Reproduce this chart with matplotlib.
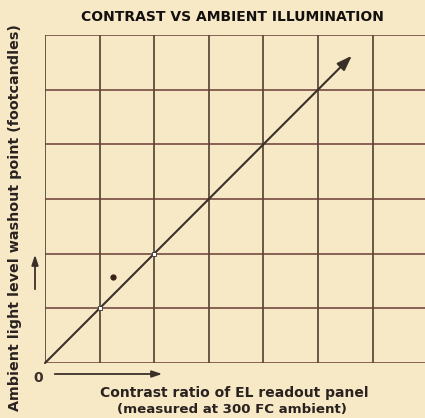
import matplotlib.pyplot as plt
import numpy as np

# grid divisions (arbitrary units, no tick labels in the original)
x_grid = [0, 1, 2, 3, 4, 5, 6, 7]
y_grid = [0, 1, 2, 3, 4, 5, 6]

# diagonal trend line (origin to arrow tip)
line_x = [0.0, 5.62]
line_y = [0.0, 5.62]

# open markers on the line at grid crossings, and one stray dot
mark_x = [1, 2]
mark_y = [1, 2]
dot_x = [1.25]
dot_y = [1.57]

bg = "#f7e9c6"
ink = "#3b2f2a"
grid_col = "#4e402e"
font = ["DejaVu Sans Condensed", "DejaVu Sans"]

fig = plt.figure(figsize=(4.25, 4.18), dpi=100, facecolor=bg)
ax = fig.add_axes([45 / 425, 55 / 418, 380 / 425, 328 / 418])
ax.set_facecolor(bg)
ax.set_xlim(0, 380 / 54.6)
ax.set_ylim(0, 6)

for x in x_grid:
    ax.axvline(x, color=grid_col, lw=1.2, zorder=1)
for y in y_grid:
    ax.axhline(y, color="#6a3e36", lw=1.1, zorder=1)

for s in ax.spines.values():
    s.set_visible(False)
ax.set_xticks([])
ax.set_yticks([])

ax.annotate("", xy=(line_x[1], line_y[1]), xytext=(line_x[0], line_y[0]),
            arrowprops=dict(arrowstyle="-|>,head_length=0.9,head_width=0.32",
                            color=ink, lw=1.5, shrinkA=0, shrinkB=0), zorder=3)
ax.plot(mark_x, mark_y, "s", ms=3, mfc="white", mec=ink, mew=0.6, zorder=4)
ax.plot(dot_x, dot_y, "o", ms=3.5, color="#3a1f1a", zorder=4)

# axis direction arrows outside the grid
ax.annotate("", xy=(35, 418 - 252), xytext=(35, 418 - 292), xycoords="figure pixels",
            textcoords="figure pixels",
            arrowprops=dict(arrowstyle="-|>,head_length=0.6,head_width=0.2", color=ink, lw=1.3))
ax.annotate("", xy=(165, 418 - 374), xytext=(52, 418 - 374), xycoords="figure pixels",
            textcoords="figure pixels",
            arrowprops=dict(arrowstyle="-|>,head_length=0.6,head_width=0.2", color=ink, lw=1.3))

fig.text(38 / 425, 1 - 378 / 418, "0", ha="center", va="center", fontsize=10,
         fontweight="bold", family=font, color=ink)
fig.text(232 / 425, 1 - 17 / 418, "CONTRAST VS AMBIENT ILLUMINATION", ha="center", va="center",
         fontsize=10, fontweight="bold", family=font, color="#141010")
fig.text(15 / 425, 1 - 218 / 418, "Ambient light level washout point (footcandles)",
         rotation=90, ha="center", va="center", fontsize=10.3, fontweight="bold",
         family=font, color="#2a2220")
fig.text(234 / 425, 1 - 393 / 418, "Contrast ratio of EL readout panel", ha="center",
         va="center", fontsize=10, fontweight="bold", family=font, color="#2a2220")
fig.text(232 / 425, 1 - 410 / 418, "(measured at 300 FC ambient)", ha="center",
         va="center", fontsize=9.6, fontweight="bold", family=font, color="#2a2220")

fig.savefig("out.png", dpi=100, facecolor=bg)
